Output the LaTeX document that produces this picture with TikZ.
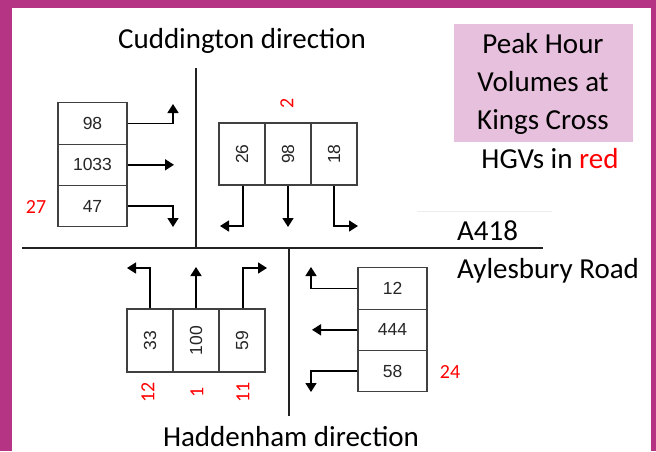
\documentclass[tikz,border=0pt]{standalone}
\usepackage{fontspec}
\setmainfont{Carlito}
\newfontfamily\arialf{Liberation Sans}
\usetikzlibrary{arrows.meta}
\definecolor{frame}{HTML}{B63484}
\definecolor{pinkbox}{HTML}{E6C0DC}
\definecolor{boxgray}{HTML}{404040}
\definecolor{roadcol}{HTML}{222222}
\begin{document}
\begin{tikzpicture}[x=1pt,y=-1pt,
  cell/.style={draw=boxgray,line width=1.2pt,inner sep=0pt,font=\arialf\fontsize{17.5}{20}\selectfont,text=black!85},
  hcell/.style={cell,minimum width=69pt,minimum height=41.3pt},
  vcell/.style={cell,minimum width=46pt,minimum height=62pt},
  flow/.style={line width=1.6pt,-{Triangle[width=11pt,length=9pt]}},
  road/.style={line width=2pt,draw=roadcol},
  hgv/.style={text=red,font=\fontsize{20}{22}\selectfont,inner sep=0pt},
  big/.style={font=\fontsize{29}{34}\selectfont,inner sep=0pt}]
\useasboundingbox (0,0) rectangle (656,451);
% frame
\fill[frame] (0,0) rectangle (656,451);
\fill[white] (12,8) rectangle (651,451);
% roads
\coordinate (rl) at (22,248);
\coordinate (rr) at (543,248);
\coordinate (vt1) at (196,68);
\coordinate (vt2) at (196,248);
\coordinate (vb1) at (289,248);
\coordinate (vb2) at (289,416);
\draw[road] (rl) -- (rr);
\draw[line width=1.6pt,draw=roadcol] (vt1) -- (vt2);
\draw[line width=1.6pt,draw=roadcol] (vb1) -- (vb2);
\coordinate (fa) at (417,211);
\coordinate (fb) at (552,211);
\draw[line width=0.8pt,draw=black!7] (fa) -- (fb);
% titles
\node[big,anchor=base] (cud) at (242,48) {Cuddington direction};
\node[big,anchor=base] (had) at (291,446) {Haddenham direction};
\node[big,anchor=base west] (a418) at (457,240) {A418};
\node[big,anchor=base west] (ayl) at (457,278) {Aylesbury Road};
\node[fill=pinkbox,minimum width=179pt,minimum height=118pt,inner sep=0pt] (peak) at (543.5,83) {};
\node[big,anchor=base] (p1) at (543,53) {Peak Hour};
\node[big,anchor=base] (p2) at (543,91) {Volumes at};
\node[big,anchor=base] (p3) at (543,129) {Kings Cross};
\node[big,anchor=base] (hgv) at (550,168) {HGVs in \textcolor{red}{red}};
% left stack (westbound approach from Cuddington side)
\node[hcell] (l1) at (92.5,123.5) {98};
\node[hcell] (l2) at (92.5,164.8) {1033};
\node[hcell] (l3) at (92.5,206.1) {47};
\node[hgv,anchor=base] (h27) at (36,213) {27};
\coordinate (l1a) at (173,123.5);
\coordinate (l1b) at (173,104);
\coordinate (l2b) at (174,164.8);
\coordinate (l3a) at (173,206.1);
\coordinate (l3b) at (173,227);
\draw[flow] (l1.east) -- (l1a) -- (l1b);
\draw[flow] (l2.east) -- (l2b);
\draw[flow] (l3.east) -- (l3a) -- (l3b);
% top stack
\node[vcell] (t1) at (242,154) {\rotatebox{90}{26}};
\node[vcell] (t2) at (288,154) {\rotatebox{90}{98}};
\node[vcell] (t3) at (334,154) {\rotatebox{90}{18}};
\node[hgv,rotate=90] (h2) at (287,103) {2};
\coordinate (t1a) at (243,226);
\coordinate (t1b) at (220,226);
\coordinate (t2b) at (288,227);
\coordinate (t3a) at (334,226);
\coordinate (t3b) at (358,226);
\draw[flow] (t1.south -| t1a) -- (t1a) -- (t1b);
\draw[flow] (t2.south) -- (t2b);
\draw[flow] (t3.south) -- (t3a) -- (t3b);
% bottom stack
\node[vcell,minimum height=63pt] (b1) at (150,340.5) {\rotatebox{90}{33}};
\node[vcell,minimum height=63pt] (b2) at (196,340.5) {\rotatebox{90}{100}};
\node[vcell,minimum height=63pt] (b3) at (242,340.5) {\rotatebox{90}{59}};
\node[hgv,rotate=90] (h12) at (148,392) {12};
\node[hgv,rotate=90] (h1) at (197,392) {1};
\node[hgv,rotate=90] (h11) at (243,392) {11};
\coordinate (b1a) at (150,268);
\coordinate (b1b) at (127,268);
\coordinate (b2b) at (196,267);
\coordinate (b3a) at (243,268);
\coordinate (b3b) at (267,268);
\draw[flow] (b1.north) -- (b1a) -- (b1b);
\draw[flow] (b2.north) -- (b2b);
\draw[flow] (b3.north -| b3a) -- (b3a) -- (b3b);
% right stack
\node[hcell] (r1) at (392.5,288.5) {12};
\node[hcell] (r2) at (392.5,329.8) {444};
\node[hcell] (r3) at (392.5,371.1) {58};
\node[hgv,anchor=base] (h24) at (450,378) {24};
\coordinate (r1a) at (311,288.5);
\coordinate (r1b) at (311,267);
\coordinate (r2b) at (312,329.8);
\coordinate (r3a) at (311,371.1);
\coordinate (r3b) at (311,392);
\draw[flow] (r1.west) -- (r1a) -- (r1b);
\draw[flow] (r2.west) -- (r2b);
\draw[flow] (r3.west) -- (r3a) -- (r3b);
\end{tikzpicture}
\end{document}
